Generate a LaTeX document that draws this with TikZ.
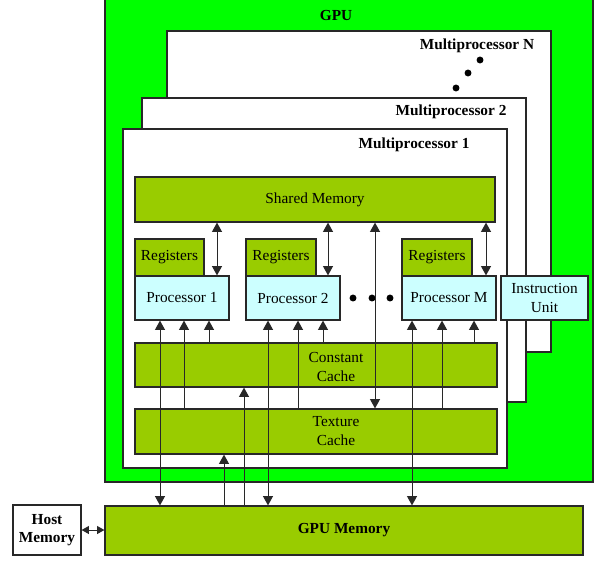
\documentclass[tikz,border=0pt]{standalone}
\usepackage{fontspec}
\setmainfont{Liberation Serif}
\usetikzlibrary{arrows.meta,fit}

\definecolor{gpugreen}{RGB}{0,255,0}
\definecolor{cachegreen}{RGB}{153,204,0}
\definecolor{procblue}{RGB}{204,255,255}
\definecolor{linegray}{RGB}{40,40,40}

\begin{document}
\begin{tikzpicture}[x=0.75pt,y=0.75pt,yscale=-1,xscale=1,
  >={Triangle[length=7pt,width=7.5pt]},
  every node/.style={font=\fontsize{11.5}{13.8}\selectfont, align=center},
  boldlabel/.style={font=\fontsize{11.5}{13.8}\selectfont\bfseries},
  plainbox/.style={draw=linegray, line width=0.9pt, fill=white, inner sep=0pt},
  memorybox/.style={plainbox, fill=cachegreen},
  procbox/.style={plainbox, fill=procblue},
  gpubox/.style={plainbox, fill=gpugreen},
  wire/.style={draw=linegray, line width=0.75pt},
  hostlink/.style={wire, {Triangle[length=5.5pt,width=6pt]}-{Triangle[length=5.5pt,width=6pt]}}
]
\useasboundingbox (0,0) rectangle (598,560);
\clip (0,0) rectangle (598,560);

%Shape: Rectangle [GPU]
\node[gpubox, fit={(105,-5) (593,482)}] (gpu) {};
\node[boldlabel] (gpulabel) at (336,15) {GPU};

%Shape: Rectangle [Multiprocessor N]
\node[plainbox, fit={(167,31) (551,352)}] (mpN) {};
\node[boldlabel] (mpNlabel) at (477,46) {Multiprocessor N};
\fill (480,60) circle (2.6pt);
\fill (468,73) circle (2.6pt);
\fill (456,88) circle (2.6pt);

%Shape: Rectangle [Multiprocessor 2]
\node[plainbox, fit={(142,98) (526,402)}] (mp2) {};
\node[boldlabel] (mp2label) at (451,112) {Multiprocessor 2};

%Shape: Rectangle [Multiprocessor 1]
\node[plainbox, fit={(123,129) (507,468)}] (mp1) {};
\node[boldlabel] (mp1label) at (414,145) {Multiprocessor 1};

%Shape: Rectangle [Shared Memory]
\node[memorybox, fit={(135,177) (495,222)}, label=center:Shared Memory] (shmem) {};

%Shape: Rectangle [Registers + Processors]
\node[memorybox, fit={(135,239) (204,276)}, label=center:Registers] (reg1) {};
\node[procbox, fit={(135,276) (229,320)}, label=center:Processor 1] (proc1) {};
\node[memorybox, fit={(246,239) (316,276)}, label=center:Registers] (reg2) {};
\node[procbox, fit={(246,276) (340,320)}, label=center:Processor 2] (proc2) {};
\node[memorybox, fit={(402,239) (472,276)}, label=center:Registers] (regM) {};
\node[procbox, fit={(402,276) (496,320)}, label=center:Processor M] (procM) {};
\fill (353,298) circle (2.6pt);
\fill (372,298) circle (2.6pt);
\fill (390,298) circle (2.6pt);

%Shape: Rectangle [Instruction Unit]
\node[procbox, fit={(501,276) (588,320)}, label={center:Instruction\\Unit}] (instr) {};

%Shape: Rectangle [Constant Cache]
\node[memorybox, fit={(135,343) (497,387)}] (const) {};
\node (constlabel) at (336,367) {Constant\\Cache};

%Shape: Rectangle [Texture Cache]
\node[memorybox, fit={(135,409) (497,454)}] (tex) {};
\node (texlabel) at (336,431) {Texture\\Cache};

%Shape: Rectangle [GPU Memory]
\node[memorybox, fit={(105,506) (583,555)}, label={[boldlabel]center:GPU Memory}] (gpumem) {};

%Shape: Rectangle [Host Memory]
\node[plainbox, fit={(13,505) (81,555)}, label={[boldlabel]center:Host\\Memory}] (host) {};

%Columns of the connectors
\coordinate (p1gm) at (160,0);
\coordinate (p1tc) at (184,0);
\coordinate (p1cc) at (209,0);
\coordinate (p1sm) at (217,0);
\coordinate (gmtc) at (224,0);
\coordinate (gmcc) at (244,0);
\coordinate (p2gm) at (268,0);
\coordinate (p2tc) at (298,0);
\coordinate (p2cc) at (323,0);
\coordinate (p2sm) at (328,0);
\coordinate (smtc) at (375,0);
\coordinate (pMgm) at (412,0);
\coordinate (pMtc) at (442,0);
\coordinate (pMcc) at (474,0);
\coordinate (pMsm) at (486,0);

%Straight Lines [Processor 1]
\draw[wire,<->] (proc1.south -| p1gm) -- (gpumem.north -| p1gm);
\draw[wire,->] (tex.north -| p1tc) -- (proc1.south -| p1tc);
\draw[wire,->] (const.north -| p1cc) -- (proc1.south -| p1cc);
\draw[wire,<->] (shmem.south -| p1sm) -- (proc1.north -| p1sm);

%Straight Lines [Processor 2]
\draw[wire,<->] (proc2.south -| p2gm) -- (gpumem.north -| p2gm);
\draw[wire,->] (tex.north -| p2tc) -- (proc2.south -| p2tc);
\draw[wire,->] (const.north -| p2cc) -- (proc2.south -| p2cc);
\draw[wire,<->] (shmem.south -| p2sm) -- (proc2.north -| p2sm);

%Straight Lines [Processor M]
\draw[wire,<->] (procM.south -| pMgm) -- (gpumem.north -| pMgm);
\draw[wire,->] (tex.north -| pMtc) -- (procM.south -| pMtc);
\draw[wire,->] (const.north -| pMcc) -- (procM.south -| pMcc);
\draw[wire,<->] (shmem.south -| pMsm) -- (procM.north -| pMsm);

%Straight Lines [caches]
\draw[wire,->] (gpumem.north -| gmtc) -- (tex.south -| gmtc);
\draw[wire,->] (gpumem.north -| gmcc) -- (const.south -| gmcc);
\draw[wire,<->] (shmem.south -| smtc) -- (tex.north -| smtc);

%Straight Lines [host]
\draw[hostlink] (host.east) -- (host.east -| gpumem.west);

\end{tikzpicture}
\end{document}
